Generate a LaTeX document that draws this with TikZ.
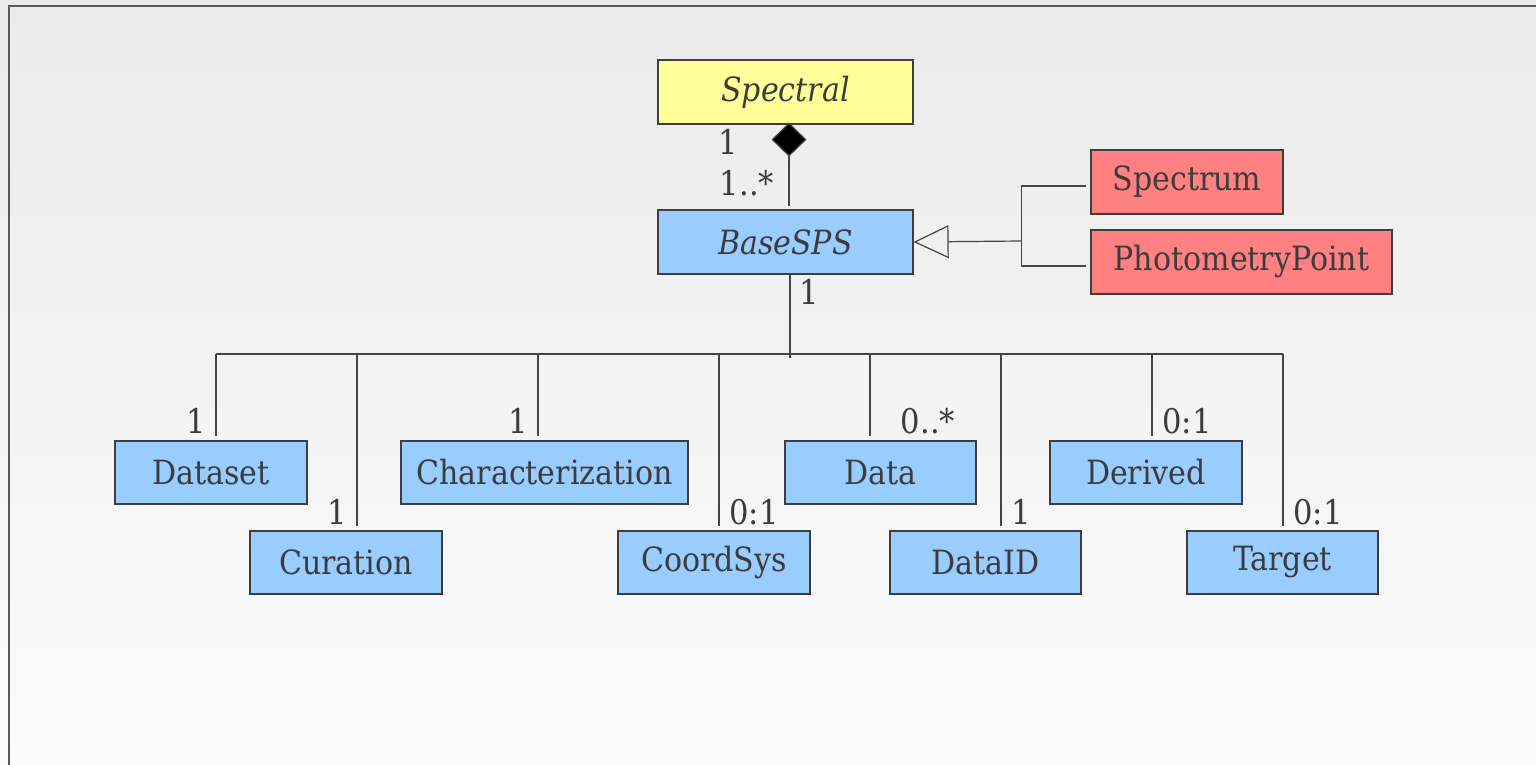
\documentclass[tikz,border=0pt]{standalone}
\usepackage{fontspec}
\setmainfont{DejaVu Serif Condensed}
\usetikzlibrary{arrows.meta,calc}
\definecolor{txt}{HTML}{3C3C3C}
\definecolor{ln}{HTML}{454545}
\definecolor{bluebox}{HTML}{99CCFF}
\definecolor{redbox}{HTML}{FF8080}
\definecolor{yelbox}{HTML}{FFFF99}
\tikzset{
  cls/.style={draw=ln!90!black, line width=0.6pt, inner sep=0pt, text=txt,
    font=\fontsize{16.7}{20}\selectfont},
  blue/.style={cls, fill=bluebox},
  conn/.style={draw=ln, line width=0.6pt},
  mult/.style={text=txt, inner sep=0pt, font=\fontsize{17}{20}\selectfont},
}
\begin{document}
\begin{tikzpicture}[x=0.5pt,y=-0.5pt]
\useasboundingbox (0,0) rectangle (1536,765);
\shade[top color={rgb,255:red,235;green,235;blue,235}, bottom color={rgb,255:red,251;green,251;blue,251}] (0,0) rectangle (1536,765);
\draw[color={rgb,255:red,90;green,90;blue,90}, line width=1pt] (8.5,765) -- (8.5,6.5) -- (1536,6.5);

% classes
\node[cls, fill=yelbox, minimum width=127.5pt, minimum height=32pt] (Spectral) at (785.5,92) {\itshape Spectral};
\node[blue, minimum width=127.5pt, minimum height=32pt] (BaseSPS) at (785.5,242) {\itshape BaseSPS};
\node[cls, fill=redbox, minimum width=96pt, minimum height=32pt] (Spectrum) at (1187,182) {Spectrum};
\node[cls, fill=redbox, minimum width=150.5pt, minimum height=32pt] (Photo) at (1241.5,262) {PhotometryPoint};

\node[blue, minimum width=96pt, minimum height=31.5pt] (Dataset) at (211,472.5) {Dataset};
\node[blue, minimum width=143.5pt, minimum height=31.5pt] (Char) at (544.5,472.5) {Characterization};
\node[blue, minimum width=95.5pt, minimum height=31.5pt] (Data) at (880.5,472.5) {Data};
\node[blue, minimum width=96pt, minimum height=31.5pt] (Derived) at (1146,472.5) {Derived};
\node[blue, minimum width=96pt, minimum height=31.5pt] (Curation) at (346,562.5) {Curation};
\node[blue, minimum width=96pt, minimum height=31.5pt] (CoordSys) at (714,562.5) {CoordSys};
\node[blue, minimum width=95.5pt, minimum height=31.5pt] (DataID) at (985.5,562.5) {DataID};
\node[blue, minimum width=95.5pt, minimum height=31.5pt] (Target) at (1282.5,562.5) {Target};

% composition
\draw[conn, -{Diamond[length=17pt,width=17.5pt,fill=black]}] ($(BaseSPS.north)+(3.5,-3)$) -- ($(Spectral.south)+(3.5,-2)$);
\node[mult] (mA) at (728,142) {1};
\node[mult] (mB) at (747,183) {1..*};

% generalization
\coordinate (gen) at (1021.5,241);
\draw[conn, -{Triangle[open,length=17.5pt,width=16.5pt]}] (gen) -- (BaseSPS.east);
\coordinate (gtop) at (1021.5,185);
\coordinate (gbot) at (1021.5,267);
\draw[conn] (gtop) -- (gbot);
\draw[conn] ($(gtop)+(0,1)$) -- ($(Spectrum.west)+(-4,4)$);
\draw[conn] ($(gbot)+(0,-1)$) -- ($(Photo.west)+(-4,4)$);

% aggregation bus
\coordinate (bus) at (790,354);
\draw[conn] (BaseSPS.south) ++(4.5,0) -- ++(0,83);
\node[mult] (mC) at (809,292) {1};
\coordinate (busL) at (216,354);
\coordinate (busR) at (1283,354);
\draw[conn] (busL) -- (busR);

\foreach \n/\dx in {Dataset/5, Curation/11, Char/-6.5, CoordSys/5, Data/-10.5, DataID/15.5, Derived/6, Target/0.5}{
  \path (\n.north) ++(\dx,-4) coordinate (t\n);
  \draw[conn] (t\n) -- (t\n |- bus);
}

\node[mult] at (196,421) {1};
\node[mult] at (337,512) {1};
\node[mult] at (518,421) {1};
\node[mult] at (754,512) {0:1};
\node[mult] at (928,421) {0..*};
\node[mult] at (1021,512) {1};
\node[mult] at (1187,421) {0:1};
\node[mult] at (1318,512) {0:1};
\end{tikzpicture}
\end{document}
